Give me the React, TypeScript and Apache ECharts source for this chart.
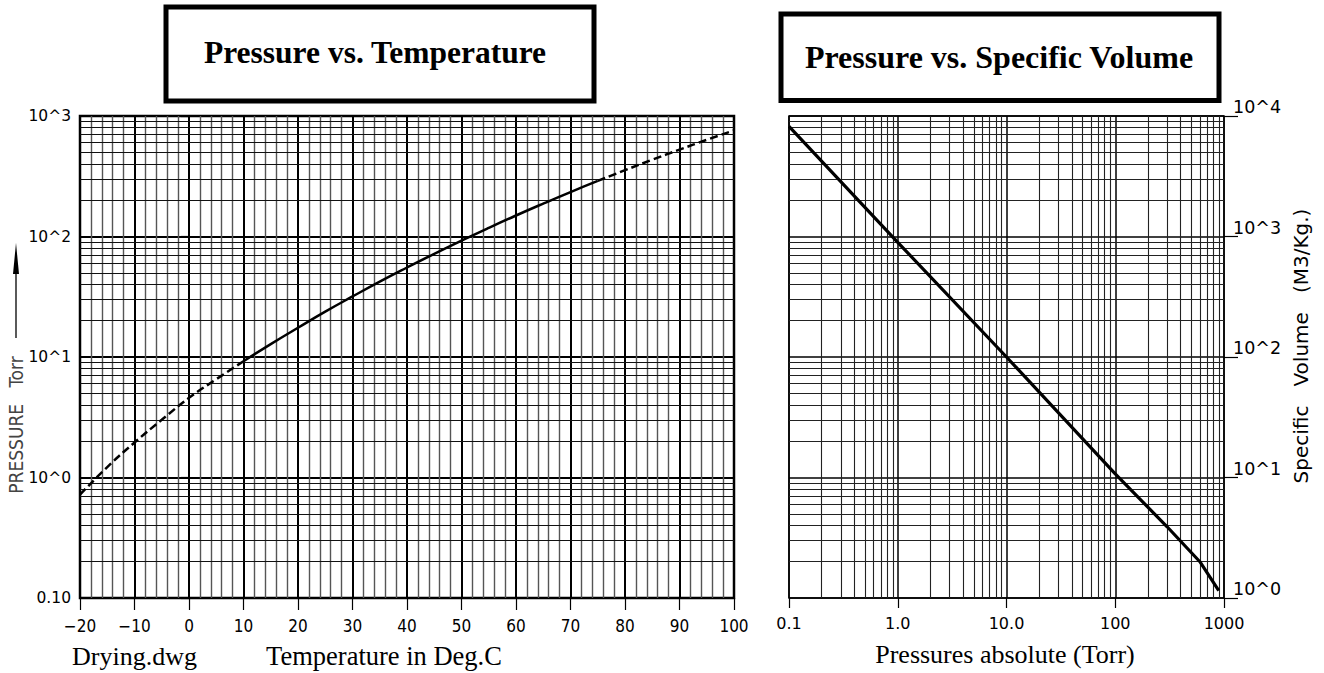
import React, { useEffect, useRef } from 'react';
import * as echarts from 'echarts';

// ---- Data ----
const TEMP_C = [-20, -15, -10, -5, 0, 5, 10, 15, 20, 25, 30, 35, 40, 45, 50, 55, 60, 65, 70, 75, 80, 85, 90, 95, 100];
const VAPOR_TORR = [0.72, 1.22, 1.95, 3.01, 4.58, 6.54, 9.21, 12.8, 17.5, 23.8, 31.8, 42.2, 55.3, 71.9, 92.5, 118, 149.4, 187.5, 233.7, 289, 355, 433.6, 525.8, 634, 760];
const SOLID_FROM_C = 10;
const SOLID_TO_C = 75;

const PRESSURE_TORR = [0.1, 1, 10, 100, 300, 600, 895];
const SPEC_VOLUME = [8200, 895, 100, 10.7, 3.9, 2.0, 1.15];

// ---- Tick labels ----
const LEFT_Y_LABELS = ['0.10', '10^0', '10^1', '10^2', '10^3'];
const RIGHT_X_LABELS = ['0.1', '1.0', '10.0', '100', '1000'];
const RIGHT_Y_LABELS = ['10^0', '10^1', '10^2', '10^3', '10^4'];
const LOG_MINOR_STEPS = [2, 3, 4, 5, 6, 7, 8, 9];

const CADC = '"DejaVu Sans Condensed", "DejaVu Sans", sans-serif';
const CAD = '"DejaVu Sans", sans-serif';
const SERIF = '"Liberation Serif", "Times New Roman", serif';

function minorValues(minExp: number, maxExp: number) {
  const out: number[] = [];
  for (let e = minExp; e < maxExp; e++) {
    for (const m of LOG_MINOR_STEPS) out.push(m * Math.pow(10, e));
  }
  return out;
}

function seg(lo: number, hi: number) {
  const d: number[][] = [];
  TEMP_C.forEach((t, i) => {
    if (t >= lo && t <= hi) d.push([t, VAPOR_TORR[i]]);
  });
  return d;
}

export default function App() {
  const ref = useRef<HTMLDivElement>(null);
  useEffect(() => {
    if (!ref.current) return;
    const chart = echarts.init(ref.current, undefined, { renderer: 'svg' });
    const option: any = {
      animation: false,
      backgroundColor: '#fff',
      grid: [
        { left: 80, top: 116, width: 654, height: 482, show: true, borderColor: '#000', borderWidth: 2.5, backgroundColor: 'transparent' },
        { left: 789, top: 116, width: 435, height: 482, show: true, borderColor: '#000', borderWidth: 1.5, backgroundColor: 'transparent' },
      ],
      xAxis: [
        {
          gridIndex: 0, type: 'value', min: -20, max: 100, interval: 10,
          axisLine: { show: false },
          axisTick: { show: true, length: 12, lineStyle: { color: '#000', width: 1.2 } },
          axisLabel: { fontFamily: CADC, fontSize: 17, color: '#000', margin: 19, formatter: (v: number) => (v < 0 ? '\u2212' + Math.abs(v) : String(v)) },
          splitLine: { show: true, lineStyle: { color: '#000', width: 2 } },
          minorTick: { show: false, splitNumber: 5 },
          minorSplitLine: { show: true, lineStyle: { color: '#555', width: 1.4 } },
        },
        {
          gridIndex: 1, type: 'log', logBase: 10, min: 0.1, max: 1000,
          axisLine: { show: false },
          axisTick: { show: true, length: 10, lineStyle: { color: '#000', width: 1.2 } },
          axisLabel: { fontFamily: CAD, fontSize: 16, color: '#000', margin: 17, formatter: (v: number) => RIGHT_X_LABELS[Math.round(Math.log10(v)) + 1] },
          splitLine: { show: true, lineStyle: { color: '#000', width: 1.5 } },
        },
      ],
      yAxis: [
        {
          gridIndex: 0, type: 'log', logBase: 10, min: 0.1, max: 1000,
          axisLine: { show: false },
          axisTick: { show: true, length: 8, lineStyle: { color: '#000', width: 1.2 } },
          axisLabel: { fontFamily: CAD, fontSize: 15.5, color: '#000', margin: 9, formatter: (v: number) => LEFT_Y_LABELS[Math.round(Math.log10(v)) + 1] },
          splitLine: { show: true, lineStyle: { color: '#000', width: 2 } },
        },
        {
          gridIndex: 1, type: 'log', logBase: 10, min: 1, max: 10000, position: 'right',
          axisLine: { show: false },
          axisTick: { show: true, length: 14, lineStyle: { color: '#000', width: 1.2 } },
          axisLabel: { fontFamily: CAD, fontSize: 17.5, color: '#000', margin: 9, verticalAlign: 'bottom', formatter: (v: number) => RIGHT_Y_LABELS[Math.round(Math.log10(v))] },
          splitLine: { show: true, lineStyle: { color: '#000', width: 1.5 } },
        },
      ],
      series: [
        {
          type: 'line', xAxisIndex: 0, yAxisIndex: 0, data: [], silent: true,
          markLine: {
            z: 1, silent: true, symbol: ['none', 'none'], label: { show: false }, animation: false,
            lineStyle: { color: '#111', width: 1, type: 'solid' },
            emphasis: { disabled: true },
            data: minorValues(-1, 3).map((v) => ({ yAxis: v })),
          },
        },
        {
          type: 'line', xAxisIndex: 1, yAxisIndex: 1, data: [], silent: true,
          markLine: {
            z: 1, silent: true, symbol: ['none', 'none'], label: { show: false }, animation: false,
            lineStyle: { color: '#222', width: 1.1, type: 'solid' },
            emphasis: { disabled: true },
            data: minorValues(0, 4).map((v) => ({ yAxis: v })).concat(minorValues(-1, 3).map((v) => ({ xAxis: v }) as any)),
          },
        },
        {
          type: 'line', xAxisIndex: 0, yAxisIndex: 0, z: 10, smooth: true, showSymbol: false, silent: true,
          lineStyle: { color: '#000', width: 2.5, type: [8, 4] },
          data: seg(-100, SOLID_FROM_C),
        },
        {
          type: 'line', xAxisIndex: 0, yAxisIndex: 0, z: 10, smooth: true, showSymbol: false, silent: true,
          lineStyle: { color: '#000', width: 2.5, type: 'solid' },
          data: seg(SOLID_FROM_C, SOLID_TO_C),
        },
        {
          type: 'line', xAxisIndex: 0, yAxisIndex: 0, z: 10, smooth: true, showSymbol: false, silent: true,
          lineStyle: { color: '#000', width: 2.5, type: [8, 4] },
          data: seg(SOLID_TO_C, 1000),
        },
        {
          type: 'line', xAxisIndex: 1, yAxisIndex: 1, z: 10, showSymbol: false, silent: true,
          lineStyle: { color: '#000', width: 3.2, type: 'solid' },
          data: PRESSURE_TORR.map((p, i) => [p, SPEC_VOLUME[i]]),
        },
      ],
      graphic: [
        { type: 'rect', shape: { x: 166, y: 7, width: 428, height: 94 }, style: { fill: '#fff', stroke: '#000', lineWidth: 5 } },
        { type: 'text', x: 375, y: 52, style: { text: 'Pressure vs. Temperature', font: `bold 31.5px ${SERIF}`, fill: '#000', align: 'center', verticalAlign: 'middle' } },
        { type: 'rect', shape: { x: 781, y: 14, width: 438, height: 86.5 }, style: { fill: '#fff', stroke: '#000', lineWidth: 5 } },
        { type: 'text', x: 999, y: 57, style: { text: 'Pressure vs. Specific Volume', font: `bold 32px ${SERIF}`, fill: '#000', align: 'center', verticalAlign: 'middle' } },
        { type: 'text', x: 72, y: 656, style: { text: 'Drying.dwg', font: `26px ${SERIF}`, fill: '#000', align: 'left', verticalAlign: 'middle' } },
        { type: 'text', x: 384, y: 656, style: { text: 'Temperature in Deg.C', font: `26.5px ${SERIF}`, fill: '#000', align: 'center', verticalAlign: 'middle' } },
        { type: 'text', x: 1005, y: 654, style: { text: 'Pressures absolute (Torr)', font: `26px ${SERIF}`, fill: '#000', align: 'center', verticalAlign: 'middle' } },
        { type: 'text', x: 16, y: 425, rotation: Math.PI / 2, style: { text: 'PRESSURE   Torr', font: `19px ${CADC}`, fill: '#444', align: 'center', verticalAlign: 'middle' } },
        { type: 'line', shape: { x1: 16, y1: 338, x2: 16, y2: 268 }, style: { stroke: '#000', lineWidth: 1.3 } },
        { type: 'polygon', shape: { points: [[16, 243], [13, 274], [19, 274]] }, style: { fill: '#000' } },
        { type: 'text', x: 1301, y: 346, rotation: Math.PI / 2, style: { text: 'Specific   Volume   (M3/Kg.)', font: `20px ${CAD}`, fill: '#000', align: 'center', verticalAlign: 'middle' } },
      ],
    };
    chart.setOption(option);
    return () => chart.dispose();
  }, []);
  return <div ref={ref} style={{ position: 'fixed', left: 0, top: 0, width: 1324, height: 673, background: '#fff' }} />;
}
